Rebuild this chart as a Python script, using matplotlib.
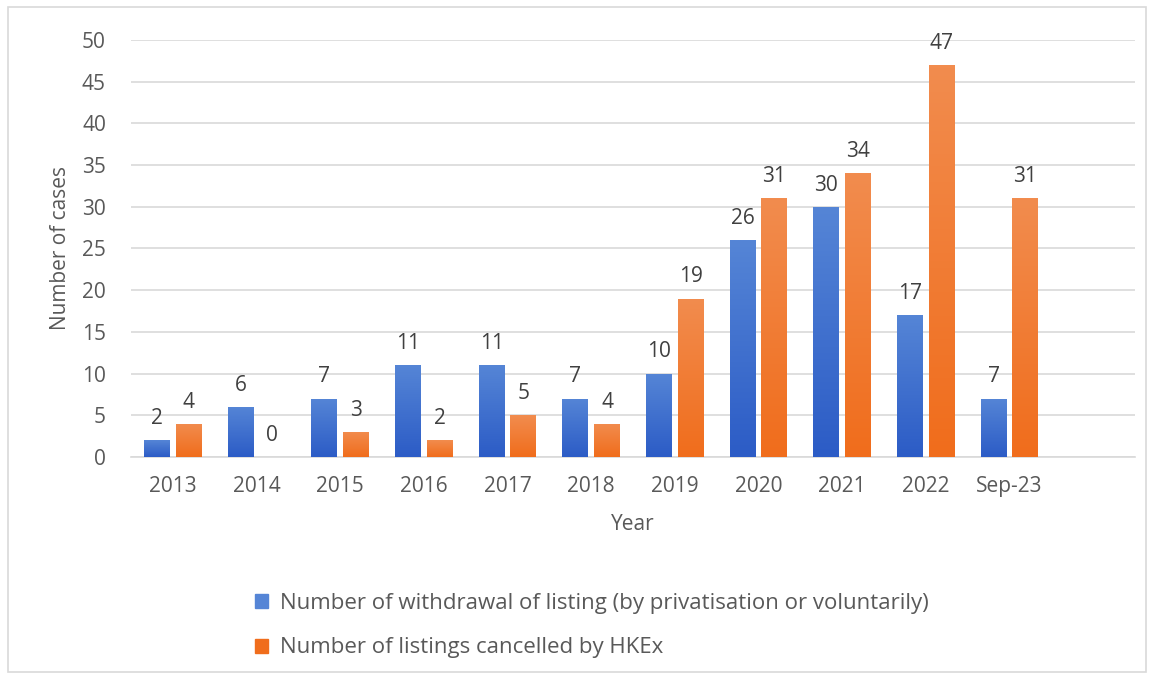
import numpy as np
import matplotlib.pyplot as plt
from matplotlib.patches import Rectangle
from matplotlib.colors import LinearSegmentedColormap

plt.rcParams['font.family'] = ['Open Sans', 'DejaVu Sans']

years = ['2013', '2014', '2015', '2016', '2017', '2018', '2019', '2020', '2021', '2022', 'Sep-23', '']
withdrawn = [2, 6, 7, 11, 11, 7, 10, 26, 30, 17, 7]
cancelled = [4, 0, 3, 2, 5, 4, 19, 31, 34, 47, 31]
label_w = 'Number of withdrawal of listing (by privatisation or voluntarily)'
label_c = 'Number of listings cancelled by HKEx'

blue_top, blue_bot = '#5585d6', '#2c5cc6'
orng_top, orng_bot = '#f28c4e', '#f06d1c'
txt = '#595959'
fs = 15

fig = plt.figure(figsize=(11.54, 6.77), dpi=100)
ax = fig.add_axes([0.1135, 0.325, 0.87, 0.616])

# outer frame
fig.patches.append(Rectangle((0.007, 0.007), 0.986, 0.982, transform=fig.transFigure,
                             fill=False, edgecolor='#d9d9d9', linewidth=1.2))

x = np.arange(len(withdrawn))
w = 0.31
off = 0.19


def gradient_bars(bars, top, bot):
    cmap = LinearSegmentedColormap.from_list('g', [bot, top])
    grad = np.linspace(0, 1, 100).reshape(-1, 1)
    for b in bars:
        h = b.get_height()
        if h <= 0:
            continue
        x0 = b.get_x()
        im = ax.imshow(grad, cmap=cmap, aspect='auto', origin='lower',
                       extent=[x0, x0 + b.get_width(), 0, h], zorder=3)
        im.set_clip_path(b)
        b.set_alpha(0)


bw = ax.bar(x - off, withdrawn, w, color=blue_bot, zorder=2, label=label_w)
bc = ax.bar(x + off, cancelled, w, color=orng_bot, zorder=2, label=label_c)
gradient_bars(bw, blue_top, blue_bot)
gradient_bars(bc, orng_top, orng_bot)

for xi, v in zip(x, withdrawn):
    ax.annotate(str(v), (xi - off, v), xytext=(0, 8), textcoords='offset points',
                ha='center', va='bottom', fontsize=fs, color='#404040')
for xi, v in zip(x, cancelled):
    ax.annotate(str(v), (xi + off, v), xytext=(0, 8), textcoords='offset points',
                ha='center', va='bottom', fontsize=fs, color='#404040')

ax.set_xlim(-0.5, len(years) - 0.5)
ax.set_ylim(0, 50)
ax.set_yticks(range(0, 51, 5))
ax.set_xticks(range(len(years)))
ax.set_xticklabels(years)
ax.tick_params(length=0, labelsize=fs, colors=txt, pad=14)
ax.tick_params(axis='y', pad=18)
ax.grid(axis='y', color='#d9d9d9', linewidth=1.2, zorder=0)
ax.set_axisbelow(True)
for s in ['top', 'right', 'left']:
    ax.spines[s].set_visible(False)
ax.spines['bottom'].set_color('#d9d9d9')
ax.spines['bottom'].set_linewidth(1.2)

ax.set_xlabel('Year', fontsize=fs, color=txt, labelpad=12)
ax.set_ylabel('Number of cases', fontsize=fs, color=txt, labelpad=8)

handles = [Rectangle((0, 0), 1, 1, color=blue_top), Rectangle((0, 0), 1, 1, color=orng_bot)]
fig.legend(handles, [label_w, label_c], loc='upper left', bbox_to_anchor=(0.213, 0.137),
           frameon=False, fontsize=16, labelcolor=txt, handlelength=0.6, handleheight=0.6,
           handletextpad=0.55, labelspacing=1.05, borderaxespad=0)

fig.savefig('out.png', dpi=100)
